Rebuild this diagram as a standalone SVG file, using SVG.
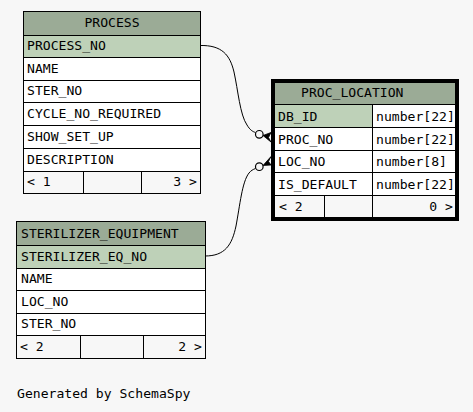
<svg xmlns="http://www.w3.org/2000/svg" width="473" height="412" viewBox="0 0 473 412">
<style>
text{font-family:"DejaVu Sans Mono","Liberation Mono",monospace;font-size:13.1px;fill:#000}
.c{stroke:#000;stroke-width:1}
.h{fill:#9bab96}
.pk{fill:#bed1b8}
.w{fill:#ffffff}
.f{fill:#f7f7f7}
.e{fill:none;stroke:#000;stroke-width:1}
.o{fill:#f7f7f7;stroke:#000;stroke-width:1.2}
</style>
<rect width="473" height="412" fill="#f7f7f7"/>
<g id="PROCESS">
<rect class="c h" x="23.5" y="11.5" width="177" height="24"/>
<rect class="c pk" x="23.5" y="35.5" width="177" height="22"/>
<rect class="c w" x="23.5" y="57.5" width="177" height="23"/>
<rect class="c w" x="23.5" y="80.5" width="177" height="22"/>
<rect class="c w" x="23.5" y="102.5" width="177" height="23"/>
<rect class="c w" x="23.5" y="125.5" width="177" height="23"/>
<rect class="c w" x="23.5" y="148.5" width="177" height="23"/>
<rect class="c f" x="23.5" y="171.5" width="177" height="22"/>
<line class="c" x1="83.5" y1="171.5" x2="83.5" y2="193.5"/>
<line class="c" x1="141.5" y1="171.5" x2="141.5" y2="193.5"/>
<text x="112" y="27" text-anchor="middle">PROCESS</text>
<text x="27" y="50">PROCESS_NO</text>
<text x="27" y="72.5">NAME</text>
<text x="27" y="95">STER_NO</text>
<text x="27" y="117.5">CYCLE_NO_REQUIRED</text>
<text x="27" y="140.5">SHOW_SET_UP</text>
<text x="27" y="163.5">DESCRIPTION</text>
<text x="27" y="186">&lt; 1</text>
<text x="197" y="186" text-anchor="end">3 &gt;</text>
</g>
<g id="STERILIZER_EQUIPMENT">
<rect class="c h" x="16.5" y="221.5" width="189" height="24"/>
<rect class="c pk" x="16.5" y="245.5" width="189" height="23"/>
<rect class="c w" x="16.5" y="268.5" width="189" height="22"/>
<rect class="c w" x="16.5" y="290.5" width="189" height="23"/>
<rect class="c w" x="16.5" y="313.5" width="189" height="22"/>
<rect class="c f" x="16.5" y="335.5" width="189" height="23"/>
<line class="c" x1="80.5" y1="335.5" x2="80.5" y2="358.5"/>
<line class="c" x1="143.5" y1="335.5" x2="143.5" y2="358.5"/>
<text x="21" y="237.5">STERILIZER_EQUIPMENT</text>
<text x="21" y="260.5">STERILIZER_EQ_NO</text>
<text x="21" y="283">NAME</text>
<text x="21" y="305.5">LOC_NO</text>
<text x="21" y="328">STER_NO</text>
<text x="20" y="351">&lt; 2</text>
<text x="202" y="351" text-anchor="end">2 &gt;</text>
</g>
<g id="PROC_LOCATION">
<rect x="272.5" y="80.5" width="185" height="139" fill="#f7f7f7" stroke="#000" stroke-width="3"/>
<rect class="c h" x="274.5" y="82.5" width="181" height="22"/>
<rect class="c pk" x="274.5" y="104.5" width="98" height="23"/>
<rect class="c w" x="372.5" y="104.5" width="83" height="23"/>
<rect class="c w" x="274.5" y="127.5" width="98" height="23"/>
<rect class="c w" x="372.5" y="127.5" width="83" height="23"/>
<rect class="c w" x="274.5" y="150.5" width="98" height="22"/>
<rect class="c w" x="372.5" y="150.5" width="83" height="22"/>
<rect class="c w" x="274.5" y="172.5" width="98" height="23"/>
<rect class="c w" x="372.5" y="172.5" width="83" height="23"/>
<rect class="c f" x="274.5" y="195.5" width="181" height="22"/>
<line class="c" x1="324.5" y1="195.5" x2="324.5" y2="217.5"/>
<line class="c" x1="372.5" y1="195.5" x2="372.5" y2="217.5"/>
<text x="301" y="97">PROC_LOCATION</text>
<text x="278" y="120.5">DB_ID</text>
<text x="376" y="120.5">number[22]</text>
<text x="278" y="143.5">PROC_NO</text>
<text x="376" y="143.5">number[22]</text>
<text x="278" y="166">LOC_NO</text>
<text x="376" y="166">number[8]</text>
<text x="278" y="188.5">IS_DEFAULT</text>
<text x="376" y="188.5">number[22]</text>
<text x="279" y="211">&lt; 2</text>
<text x="453" y="211" text-anchor="end">0 &gt;</text>
</g>
<g id="connectors">
<path class="e" d="M200,45.5 C222,45 230,55 234,72 C238,90 240,115 247,125 C250,130 252.5,131.5 255.5,132.5"/>
<circle class="o" cx="259.3" cy="134.3" r="3.8"/>
<polygon points="263,135.5 271,132.5 268.5,137.5 271,142" fill="#000" stroke="#000" stroke-width="0.8"/>
<path class="e" d="M205,256 C225,256 232,245 236,226 C240,205 242,182 249,173 C251,170.5 253,169.5 255.5,168.5"/>
<circle class="o" cx="259.3" cy="166.7" r="3.8"/>
<polygon points="263,165.5 271,156.5 268.5,161.5 271,165" fill="#000" stroke="#000" stroke-width="0.8"/>
</g>
<text x="17" y="398">Generated by SchemaSpy</text>
</svg>
